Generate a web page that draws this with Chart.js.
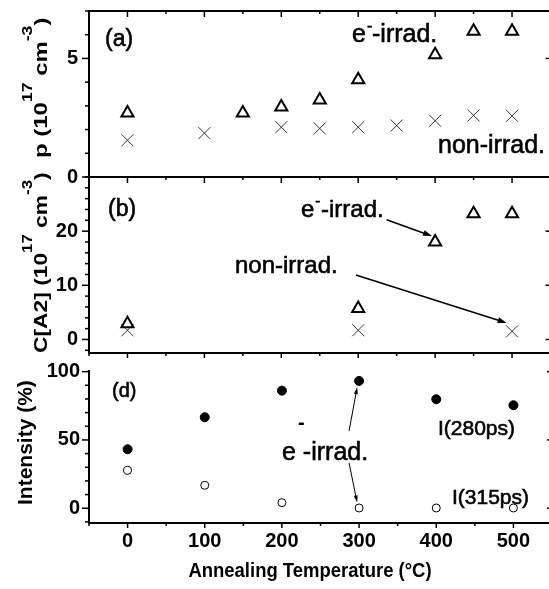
<!DOCTYPE html>
<html><head><meta charset="utf-8">
<script src="https://cdn.jsdelivr.net/npm/chart.js@4/dist/chart.umd.min.js"></script>
<style>
html,body{margin:0;padding:0;background:#fff;overflow:hidden;width:549px;height:589px}
#wrap{position:relative;width:549px;height:589px;overflow:hidden;background:#fff}
canvas{position:absolute;left:0;top:0}
</style></head><body>
<div id="wrap">
<canvas id="ca" width="560" height="589"></canvas>
<canvas id="cb" width="560" height="589"></canvas>
<canvas id="cd" width="560" height="589"></canvas>
</div>
<script>
// ---------- data ----------
const xTickLabels = [0, 100, 200, 300, 400, 500];
// panel (a): hole concentration p (10^17 cm^-3)
const tempA_irr = [0, 150, 200, 250, 300, 400, 450, 500];
const pA_irr    = [2.7, 2.7, 2.95, 3.25, 4.1, 5.15, 6.15, 6.15];
const tempA_non = [0, 100, 200, 250, 300, 350, 400, 450, 500];
const pA_non    = [1.55, 1.85, 2.1, 2.05, 2.1, 2.17, 2.37, 2.6, 2.58];
const yTicksA   = [0, 5];
// panel (b): C[A2] (10^17 cm^-3)
const tempB_irr = [0, 300, 400, 450, 500];
const cB_irr    = [2.9, 5.7, 18.0, 23.2, 23.2];
const tempB_non = [0, 300, 500];
const cB_non    = [1.7, 1.7, 1.5];
const yTicksB   = [0, 10, 20];
// panel (d): intensity (%)
const tempD     = [0, 100, 200, 300, 400, 500];
const i280      = [43.2, 66.6, 86.1, 93.2, 79.8, 75.4];
const i315      = [27.8, 16.8, 4.1, 0.2, 0.2, 0.2];
const yTicksD   = [0, 50, 100];

const FONT = '"Liberation Sans", Arial, Helvetica, sans-serif';
const pts = (xs, ys) => xs.map((x, i) => ({x, y: ys[i]}));

// ---------- helpers ----------
function line(ctx, x1, y1, x2, y2) { ctx.beginPath(); ctx.moveTo(x1, y1); ctx.lineTo(x2, y2); ctx.stroke(); }
function arrow(ctx, x1, y1, x2, y2, lw, hl, hw) {
  const a = Math.atan2(y2 - y1, x2 - x1), c = Math.cos(a), s = Math.sin(a);
  ctx.lineWidth = lw;
  line(ctx, x1, y1, x2 - c * hl * 0.7, y2 - s * hl * 0.7);
  ctx.beginPath();
  ctx.moveTo(x2, y2);
  ctx.lineTo(x2 - c * hl + s * hw / 2, y2 - s * hl - c * hw / 2);
  ctx.lineTo(x2 - c * hl - s * hw / 2, y2 - s * hl + c * hw / 2);
  ctx.closePath(); ctx.fill();
}
function txt(ctx, t, x, y, size, weight) {
  ctx.font = (weight || 'normal') + ' ' + size + 'px ' + FONT;
  ctx.textAlign = 'left'; ctx.textBaseline = 'alphabetic';
  ctx.fillText(t, x, y);
  if (!weight) { ctx.lineWidth = 0.6; ctx.strokeText(t, x, y); }
  return ctx.measureText(t).width;
}
// vertical rich text reading bottom -> top; bx = baseline x, y0 = start y
function vtext(ctx, bx, y0, stretch, size, supSize, supDx, pieces) {
  ctx.save();
  ctx.translate(bx, y0); ctx.rotate(-Math.PI / 2); ctx.scale(stretch, 1);
  ctx.textAlign = 'left'; ctx.textBaseline = 'alphabetic';
  let cx = 0;
  pieces.forEach(p => {
    ctx.font = 'bold ' + (p.sup ? supSize : size) + 'px ' + FONT;
    ctx.fillText(p.t, cx, p.sup ? -supDx : 0);
    cx += ctx.measureText(p.t).width + (p.gap || 0);
  });
  ctx.restore();
}

// frame / tick plugin
const framePlugin = {
  id: 'frame',
  afterDraw(chart, args, o) {
    const {ctx, chartArea: a} = chart;
    const xs = chart.scales.x, ys = chart.scales.y;
    ctx.save();
    ctx.strokeStyle = '#000'; ctx.lineCap = 'butt';
    ctx.lineWidth = 2;
    line(ctx, a.left, a.top - (o.top ? 1 : 0), a.left, a.bottom + 1);
    line(ctx, a.right, a.top - (o.top ? 1 : 0), a.right, a.bottom + 1);
    line(ctx, a.left - 1, a.bottom, a.right + 1, a.bottom);
    if (o.top) line(ctx, a.left - 1, a.top, a.right + 1, a.top);
    ctx.lineWidth = 1.5;
    const yt = chart.options.plugins.frame.yMajor;
    yt.forEach(v => { const p = ys.getPixelForValue(v); line(ctx, a.left - 7, p, a.left, p); line(ctx, a.right, p, a.right - 5, p); });
    for (let v = Math.ceil(ys.min / o.yMinorStep) * o.yMinorStep; v <= ys.max + 1e-9; v += o.yMinorStep) {
      if (yt.some(t => Math.abs(t - v) < 1e-9)) continue;
      const p = ys.getPixelForValue(v); line(ctx, a.left - 4, p, a.left, p);
    }
    for (let v = -50; v <= 550; v += 50) {
      const major = v % 100 === 0, p = xs.getPixelForValue(v);
      if (o.xTop) line(ctx, p, a.top, p, a.top + (major ? 6 : 3));
      if (o.xBottom) line(ctx, p, a.bottom, p, a.bottom + (major ? 5 : 3));
    }
    ctx.restore();
    if (o.draw) o.draw(ctx, chart);
  }
};

function makeChart(id, cfg) {
  return new Chart(document.getElementById(id), {
    type: 'scatter',
    data: {datasets: cfg.datasets},
    options: {
      responsive: false, animation: false, devicePixelRatio: 1,
      layout: {padding: {left: 0, right: 8, top: cfg.top, bottom: cfg.bottom}},
      plugins: {legend: {display: false}, tooltip: {enabled: false}, frame: cfg.frame},
      scales: {
        x: {
          type: 'linear', min: -50, max: 550, display: cfg.xLabels,
          grid: {display: false, drawTicks: false}, border: {display: false},
          afterBuildTicks: s => { s.ticks = xTickLabels.map(v => ({value: v})); },
          afterFit: s => { s.height = cfg.xLabels ? 40 : 0; s.paddingLeft = 0; s.paddingRight = 0; },
          ticks: {padding: 6, color: '#000', font: {family: FONT, size: 20, weight: 'bold'}}
        },
        y: {
          type: 'linear', min: cfg.ymin, max: cfg.ymax,
          grid: {display: false, drawTicks: false}, border: {display: false},
          afterBuildTicks: s => { s.ticks = cfg.yTicks.map(v => ({value: v})); },
          afterFit: s => { s.width = 89; s.paddingTop = 0; s.paddingBottom = 0; },
          ticks: {padding: cfg.yPad, color: '#000', font: {family: FONT, size: 20, weight: 'bold'}}
        }
      }
    },
    plugins: [framePlugin]
  });
}

const triangle = {pointStyle: 'triangle', pointRadius: 7, pointBorderWidth: 2, borderColor: '#000', pointBackgroundColor: 'rgba(255,255,255,0)', showLine: false};
const cross = {pointStyle: 'crossRot', pointRadius: 8.5, pointBorderWidth: 1, borderColor: '#333', pointBorderColor: '#333', showLine: false};

// ---------- panel (a) ----------
makeChart('ca', {
  top: 11, bottom: 589 - 177, ymin: 0, ymax: 7, yTicks: yTicksA, yPad: 11, xLabels: false,
  datasets: [
    Object.assign({label: 'e-irrad.', data: pts(tempA_irr, pA_irr)}, triangle),
    Object.assign({label: 'non-irrad.', data: pts(tempA_non, pA_non)}, cross)
  ],
  frame: {top: true, xTop: true, xBottom: false, yMajor: yTicksA, yMinorStep: 1,
    draw(ctx) {
      ctx.save(); ctx.fillStyle = '#000'; ctx.strokeStyle = '#000';
      txt(ctx, '(a)', 105, 46, 23);
      let w = txt(ctx, 'e', 352, 42, 25);
      txt(ctx, '-', 352 + w + 1, 31, 16);
      txt(ctx, '-irrad.', 372, 42, 25);
      txt(ctx, 'non-irrad.', 438, 153, 25);
      vtext(ctx, 47, 158, 1.26, 19, 14, 15, [
        {t: 'p (10'}, {t: '17', sup: true}, {t: ' cm'}, {t: '-3', sup: true}, {t: ')'}]);
      ctx.restore();
    }}
});

// ---------- panel (b) ----------
makeChart('cb', {
  top: 177, bottom: 589 - 353, ymin: -2.5, ymax: 30, yTicks: yTicksB, yPad: 11, xLabels: false,
  datasets: [
    Object.assign({label: 'e-irrad.', data: pts(tempB_irr, cB_irr)}, triangle),
    Object.assign({label: 'non-irrad.', data: pts(tempB_non, cB_non)}, cross)
  ],
  frame: {top: true, xTop: true, xBottom: true, yMajor: yTicksB, yMinorStep: 2,
    draw(ctx, chart) {
      const X = v => chart.scales.x.getPixelForValue(v), Y = v => chart.scales.y.getPixelForValue(v);
      ctx.save(); ctx.fillStyle = '#000'; ctx.strokeStyle = '#000';
      txt(ctx, '(b)', 108, 216, 23);
      let w = txt(ctx, 'e', 301, 217, 24);
      txt(ctx, '-', 301 + w + 1, 206, 15);
      txt(ctx, '-irrad.', 321, 217, 24);
      txt(ctx, 'non-irrad.', 235, 273, 24);
      arrow(ctx, X(337), Y(22.1), X(396), Y(19.1), 1.6, 9, 6);
      arrow(ctx, X(297), Y(11.9), X(493), Y(3.05), 1.6, 9, 6);
      vtext(ctx, 47, 353, 1.2, 19, 14, 15, [
        {t: 'C[A2] (10'}, {t: '17', sup: true}, {t: ' cm'}, {t: '-3', sup: true}, {t: ')'}]);
      ctx.restore();
    }}
});

// ---------- panel (d) ----------
makeChart('cd', {
  top: 370, bottom: 589 - 523 - 40, ymin: -10.8, ymax: 101.2, yTicks: yTicksD, yPad: 9, xLabels: true,
  datasets: [
    {label: 'I(280ps)', data: pts(tempD, i280), pointStyle: 'circle', pointRadius: 4.5, pointBorderWidth: 1, pointBorderColor: '#000', pointBackgroundColor: '#000', showLine: false},
    {label: 'I(315ps)', data: pts(tempD, i315), pointStyle: 'circle', pointRadius: 4, pointBorderWidth: 1, pointBorderColor: '#000', pointBackgroundColor: '#fff', showLine: false}
  ],
  frame: {top: false, xTop: false, xBottom: true, yMajor: yTicksD, yMinorStep: 10,
    draw(ctx, chart) {
      const X = v => chart.scales.x.getPixelForValue(v), Y = v => chart.scales.y.getPixelForValue(v);
      ctx.save(); ctx.fillStyle = '#000'; ctx.strokeStyle = '#000';
      txt(ctx, '(d)', 112, 397, 20);
      txt(ctx, 'e -irrad.', 282, 460, 25);
      txt(ctx, '-', 298, 429, 20, 'bold');
      txt(ctx, 'I(280ps)', 438, 435, 21);
      txt(ctx, 'I(315ps)', 452, 504, 21);
      ctx.strokeStyle = '#000';
      arrow(ctx, X(287), Y(56.6), X(297.5), Y(88.5), 1, 7, 4);
      arrow(ctx, X(287), Y(33.2), X(297.5), Y(4.2), 1, 7, 4);
      vtext(ctx, 32, 505, 1.0, 21, 14, 15, [{t: 'Intensity (%)'}]);
      ctx.save();
      ctx.translate(310, 577); ctx.scale(0.88, 1);
      ctx.font = 'bold 21px ' + FONT; ctx.textAlign = 'center'; ctx.textBaseline = 'alphabetic';
      ctx.fillText('Annealing Temperature (\u00B0C)', 0, 0);
      ctx.restore();
      ctx.restore();
    }}
});
</script>
</body></html>
